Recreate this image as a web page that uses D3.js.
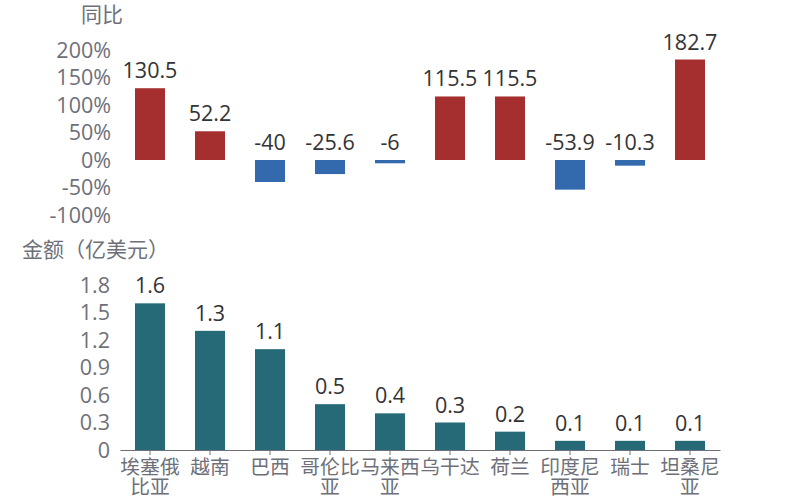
<!DOCTYPE html>
<html><head><meta charset="utf-8">
<script src="https://cdn.jsdelivr.net/npm/d3@7/dist/d3.min.js"></script>
<style>body{margin:0;background:#fff}svg{display:block}</style>
</head><body>
<svg id="c" width="800" height="500"></svg>
<script>
const categories = ["埃塞俄比亚","越南","巴西","哥伦比亚","马来西亚","乌干达","荷兰","印度尼西亚","瑞士","坦桑尼亚"];
const categoryLines = [["埃塞俄","比亚"],["越南"],["巴西"],["哥伦比","亚"],["马来西","亚"],["乌干达"],["荷兰"],["印度尼","西亚"],["瑞士"],["坦桑尼","亚"]];
const yoy = [130.5, 52.2, -40, -25.6, -6, 115.5, 115.5, -53.9, -10.3, 182.7];
const amount = [1.6, 1.3, 1.1, 0.5, 0.4, 0.3, 0.2, 0.1, 0.1, 0.1];
const yoyTicks = [200, 150, 100, 50, 0, -50, -100];
const amountTicks = [0, 0.3, 0.6, 0.9, 1.2, 1.5, 1.8];

const svg = d3.select("#c");
const font = "'Open Sans','Noto Sans CJK SC',sans-serif";
const cjk = "'Noto Sans CJK SC',sans-serif";
const gray = "#6E7079";
const fs = 21.5;

const x = d3.scaleBand().domain(categories).range([120, 720]).paddingInner(0.5).paddingOuter(0.25);

// Top chart
const y1 = d3.scaleLinear().domain([-100, 200]).range([215, 50]);
const gy1 = svg.append("g").attr("transform","translate(120,0)")
  .call(d3.axisLeft(y1).tickValues(yoyTicks).tickSize(0).tickPadding(9).tickFormat(d => d + "%"));
gy1.select(".domain").remove();
gy1.selectAll("text").attr("font-family", font).attr("font-size", fs).attr("fill", gray).attr("dy","0.33em");

svg.append("text").attr("x", 123).attr("y", 21.5).attr("text-anchor","end")
  .attr("font-family", cjk).attr("font-size", 21).attr("fill", gray).text("同比");

svg.append("g").selectAll("rect").data(yoy).join("rect")
  .attr("x", (d,i) => x(categories[i])).attr("width", x.bandwidth())
  .attr("y", d => Math.min(y1(0), y1(d))).attr("height", d => Math.abs(y1(d) - y1(0)))
  .attr("fill", d => d >= 0 ? "#A52E2E" : "#336AAD");

svg.append("g").selectAll("text").data(yoy).join("text")
  .attr("x", (d,i) => x(categories[i]) + x.bandwidth()/2)
  .attr("y", d => Math.min(y1(0), y1(d)) - 10)
  .attr("text-anchor","middle").attr("font-family", font).attr("font-size", fs).attr("fill","#333")
  .text(d => d);

// Bottom chart
const y2 = d3.scaleLinear().domain([0, 1.8]).range([450, 285]);
const gy2 = svg.append("g").attr("transform","translate(120,0)")
  .call(d3.axisLeft(y2).tickValues(amountTicks).tickSize(0).tickPadding(10).tickFormat(d => d3.format("")(+d.toFixed(1))));
gy2.select(".domain").remove();
gy2.selectAll("text").attr("font-family", font).attr("font-size", fs).attr("fill", gray).attr("dy","0.33em");

svg.append("text").attr("x", 22).attr("y", 256.5)
  .attr("font-family", cjk).attr("font-size", 21).attr("fill", gray).text("金额（亿美元）");

svg.append("g").selectAll("rect").data(amount).join("rect")
  .attr("x", (d,i) => x(categories[i])).attr("width", x.bandwidth())
  .attr("y", d => y2(d)).attr("height", d => y2(0) - y2(d))
  .attr("fill", "#266A78");

svg.append("g").selectAll("text").data(amount).join("text")
  .attr("x", (d,i) => x(categories[i]) + x.bandwidth()/2)
  .attr("y", d => y2(d) - 10)
  .attr("text-anchor","middle").attr("font-family", font).attr("font-size", fs).attr("fill","#333")
  .text(d => d);

const gx = svg.append("g").attr("transform","translate(0,450)")
  .call(d3.axisBottom(x).tickSize(5).tickFormat(""));
gx.select(".domain").attr("stroke", gray).attr("d", "M120.5,0.5H720.5");
gx.selectAll(".tick line").attr("stroke", gray);
gx.selectAll(".tick").each(function(d, i){
  const t = d3.select(this).append("text").attr("fill", gray).attr("font-family", cjk)
    .attr("font-size", 19.8).attr("text-anchor","middle");
  categoryLines[i].forEach((ln, j) => {
    t.append("tspan").attr("x", 0).attr("y", 24 + j*20).text(ln);
  });
});
</script>
</body></html>
